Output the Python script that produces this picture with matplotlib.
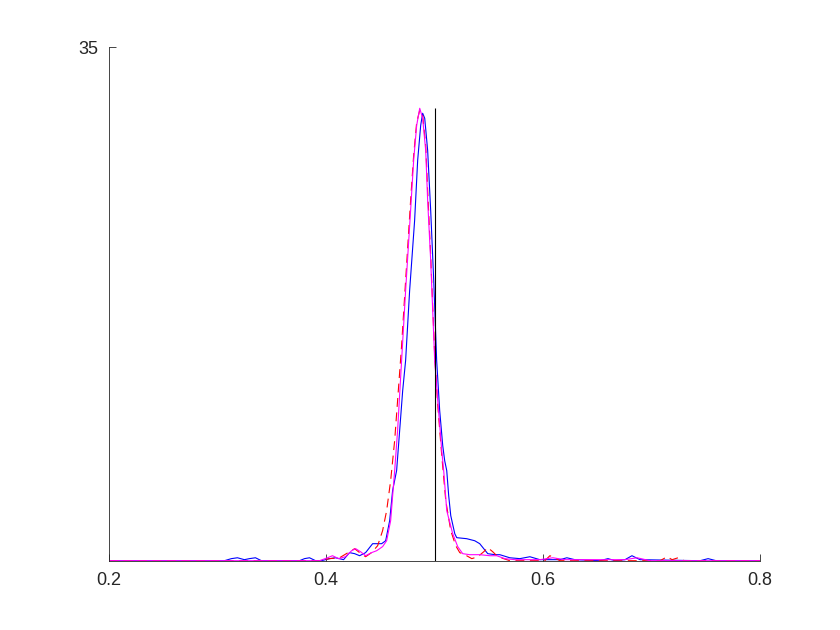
import numpy as np
import matplotlib
matplotlib.use("Agg")
import matplotlib.pyplot as plt

# values
blue_x = [0.2, 0.3062, 0.3126, 0.3182, 0.3246, 0.3292, 0.3348, 0.3403, 0.3754, 0.38, 0.3846, 0.3902,
          0.3957, 0.4031, 0.4086, 0.4160, 0.4215, 0.4262, 0.4308, 0.4363, 0.4428, 0.4511, 0.4548,
          0.4585, 0.4612, 0.4649, 0.4677, 0.4705, 0.4732, 0.4769, 0.4815, 0.4843, 0.4871, 0.4889,
          0.4908, 0.4935, 0.4963, 0.4991, 0.5018, 0.5046, 0.5074, 0.5092, 0.5111, 0.5129, 0.5148,
          0.5185, 0.5203, 0.5295, 0.5369, 0.5415, 0.5489, 0.5554, 0.56, 0.5692, 0.5785, 0.5877,
          0.5969, 0.6154, 0.6218, 0.6292, 0.6523, 0.6597, 0.6662, 0.6754, 0.6818, 0.6892, 0.7446,
          0.7520, 0.7594, 0.8]
blue_y = [0, 0, 0.14, 0.20, 0.07, 0.14, 0.20, 0, 0, 0.14, 0.20, 0,
          0, 0.14, 0.20, 0.07, 0.55, 0.48, 0.34, 0.55, 1.16, 1.16, 1.36,
          2.73, 4.78, 6.14, 8.87, 11.60, 13.65, 18.42, 23.20, 27.29, 29.68, 30.50,
          30.16, 27.97, 23.88, 19.10, 13.65, 10.23, 7.85, 6.82, 6.14, 4.43, 3.07,
          1.84, 1.57, 1.50, 1.36, 1.16, 0.48, 0.41, 0.41, 0.20, 0.14, 0.27,
          0.07, 0.07, 0.20, 0.07, 0, 0.14, 0, 0.07, 0.34, 0.07, 0,
          0.14, 0, 0]

red_x = [0.2, 0.3938, 0.4031, 0.4123, 0.4215, 0.4262, 0.4308, 0.4363, 0.4418, 0.4474, 0.4520,
         0.4557, 0.4594, 0.4631, 0.4658, 0.4695, 0.4732, 0.4778, 0.4806, 0.4834, 0.4862, 0.4889,
         0.4917, 0.4935, 0.4963, 0.5, 0.5028, 0.5065, 0.5102, 0.5148, 0.5194, 0.5231, 0.5277,
         0.5342, 0.5397, 0.5452, 0.5489, 0.5535, 0.5582, 0.5692, 0.6015, 0.6062, 0.6117, 0.6154,
         0.7077, 0.7142, 0.7188, 0.7243, 0.7298, 0.8]
red_y = [0, 0, 0.14, 0.20, 0.61, 0.82, 0.55, 0.27, 0.55, 1.02, 2.05,
         3.41, 5.46, 8.19, 10.92, 14.67, 19.10, 24.56, 27.63, 29.88, 30.70, 30.36,
         28.31, 25.24, 20.81, 13.99, 10.58, 7.16, 4.09, 2.05, 1.02, 0.55, 0.41,
         0.14, 0.27, 0.61, 0.89, 0.61, 0.27, 0, 0, 0.34, 0.14, 0,
         0, 0.27, 0.07, 0.20, 0, 0]

magenta_x = [0.2, 0.3938, 0.4012, 0.4058, 0.4114, 0.4178, 0.4234, 0.4271, 0.4317, 0.4363, 0.4418,
             0.4465, 0.4520, 0.4557, 0.4594, 0.4631, 0.4658, 0.4695, 0.4732, 0.4778, 0.4806,
             0.4834, 0.4862, 0.4889, 0.4917, 0.4935, 0.4963, 0.5, 0.5028, 0.5065, 0.5083, 0.5111,
             0.5166, 0.5212, 0.5258, 0.5323, 0.5415, 0.5508, 0.5572, 0.5646, 0.5738, 0.5969,
             0.6089, 0.62, 0.6754, 0.6865, 0.6985, 0.8]
magenta_y = [0, 0, 0.20, 0.34, 0.14, 0.27, 0.68, 0.82, 0.61, 0.34, 0.55,
             0.68, 0.96, 1.36, 2.73, 6.14, 8.87, 13.65, 18.42, 23.88, 27.29,
             29.68, 30.84, 30.16, 27.97, 24.56, 20.47, 13.65, 10.92, 7.50, 6.14, 3.41,
             1.84, 0.96, 0.48, 0.41, 0.41, 0.34, 0.34, 0.14, 0.07, 0.07,
             0.20, 0.07, 0.07, 0.20, 0, 0]

target_x = 0.5
x_ticks = [0.2, 0.4, 0.6, 0.8]
y_ticks = [35]

plt.rcParams['font.family'] = ['Liberation Sans', 'DejaVu Sans']
axis_col = '#262626'

fig = plt.figure(figsize=(8.4, 6.3), dpi=100)
ax = fig.add_axes([0.13, 0.11, 0.775, 0.815])

ax.plot(blue_x, blue_y, color='blue', lw=0.8)
ax.plot(red_x, red_y, color='red', lw=0.8, linestyle=(0, (8, 5)))
ax.plot(magenta_x, magenta_y, color='magenta', lw=0.8)
ax.vlines(target_x, 0, max(magenta_y), color='black', lw=0.8)

ax.set_xlim(0.2, 0.8)
ax.set_ylim(0, 35)
ax.set_xticks(x_ticks)
ax.set_xticklabels([str(v) for v in x_ticks])
ax.set_yticks(y_ticks)
ax.tick_params(direction='in', length=5, width=0.6, colors=axis_col, labelsize=13, pad=8)
for s in ['top', 'right']:
    ax.spines[s].set_visible(False)
for s in ['left', 'bottom']:
    ax.spines[s].set_color(axis_col)
    ax.spines[s].set_linewidth(0.6)

fig.savefig('out.png', dpi=100)
